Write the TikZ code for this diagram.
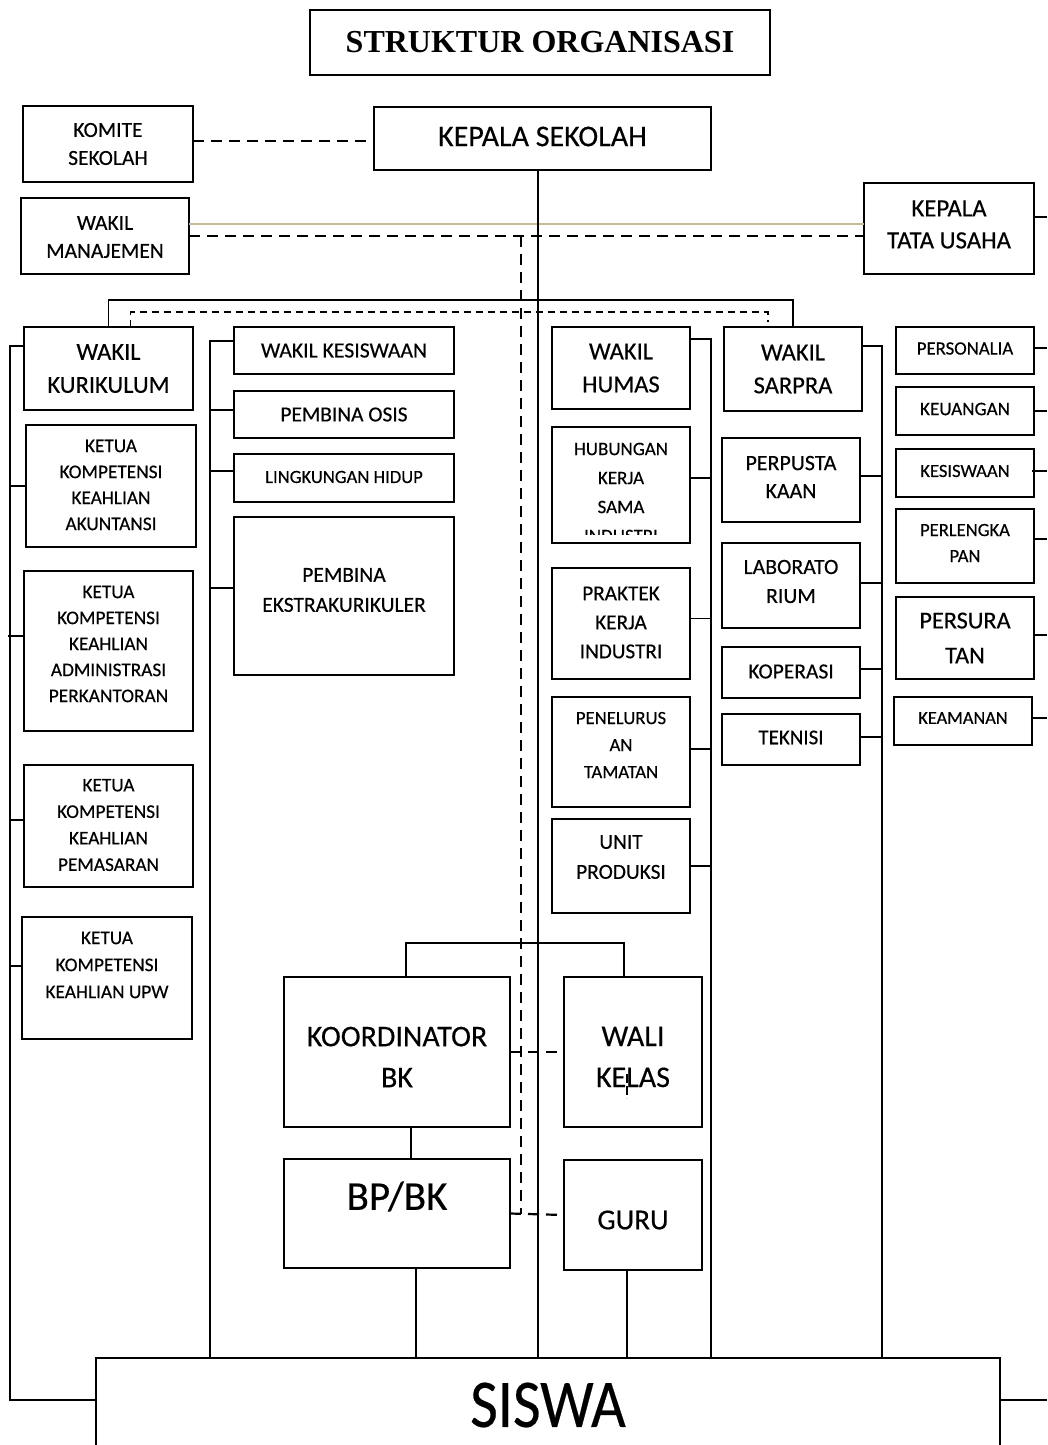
\documentclass[tikz,border=0pt]{standalone}
\usepackage{fontspec}
\setmainfont{Carlito}[FakeBold=0.35]
\newfontfamily\titlefont{Liberation Serif}
\definecolor{tanc}{RGB}{196,186,148}
\newcommand\fs[2]{\fontsize{#1}{#2}\selectfont}
\newcommand\bx[8]{%
  \node[bxs, anchor=north west, minimum width={#4-#2}, minimum height={#5-#3}] (#1) at (#2,#3) {};
  \node[txt, font=#6] (#1t) at ([yshift={-(#7)}]#1.center) {#8};
}
\begin{document}
\begin{tikzpicture}[x=1pt,y=-1pt,
  bxs/.style={draw, fill=white, line width=1.7pt, inner sep=0pt, outer sep=0pt, rectangle},
  txt/.style={align=center, inner sep=0pt},
  ln/.style={line width=1.5pt},
  thinln/.style={line width=1.2pt},
  dsh/.style={line width=2.2pt, dash pattern=on 11pt off 7pt},
  dsh2/.style={line width=1.4pt, dash pattern=on 7pt off 5pt},
  tanln/.style={line width=2pt, draw=tanc}]
\useasboundingbox (0,0) rectangle (1047,1445);
\fill[white] (0,0) rectangle (1047,1445);
\clip (0,0) rectangle (1047,1445);

% boxes
\bx{title}{310}{10}{770}{75}{\titlefont\bfseries\fs{32}{38}}{0}{STRUKTUR ORGANISASI}
\bx{ks}{374}{107}{711}{170}{\fs{30}{34}}{-2}{KEPALA SEKOLAH}
\bx{kom}{23}{106}{193}{182}{\fs{21.5}{28}}{0}{KOMITE\\SEKOLAH}
\bx{wm}{21}{198}{189}{274}{\fs{21.5}{28}}{1}{WAKIL\\MANAJEMEN}
\bx{kt}{864}{183}{1034}{274}{\fs{24.8}{32}}{-4}{KEPALA\\TATA USAHA}
\bx{wk}{24}{327}{193}{410}{\fs{24.5}{33}}{0}{WAKIL\\KURIKULUM}
\bx{ka}{26}{425}{196}{547}{\fs{19.3}{26}}{-1}{KETUA\\KOMPETENSI\\KEAHLIAN\\AKUNTANSI}
\bx{kap}{24}{571}{193}{731}{\fs{19.3}{26}}{-7}{KETUA\\KOMPETENSI\\KEAHLIAN\\ADMINISTRASI\\PERKANTORAN}
\bx{kp}{24}{765}{193}{887}{\fs{19.3}{26.5}}{-1}{KETUA\\KOMPETENSI\\KEAHLIAN\\PEMASARAN}
\bx{ku}{22}{917}{192}{1039}{\fs{19.3}{27}}{-13}{KETUA\\KOMPETENSI\\KEAHLIAN UPW}
\bx{wkes}{234}{327}{454}{374}{\fs{21.7}{24}}{0}{WAKIL KESISWAAN}
\bx{pos}{234}{391}{454}{438}{\fs{21.4}{24}}{0}{PEMBINA OSIS}
\bx{lh}{234}{454}{454}{502}{\fs{18.6}{22}}{-1}{LINGKUNGAN HIDUP}
\bx{pe}{234}{517}{454}{675}{\fs{21.5}{30}}{-6}{PEMBINA\\EKSTRAKURIKULER}
\bx{wh}{552}{327}{690}{409}{\fs{24.5}{33}}{0}{WAKIL\\HUMAS}
\node[bxs, anchor=north west, minimum width=138, minimum height=116] (hub) at (552,427) {};
\begin{scope}
  \clip (552,427) rectangle (690,534);
  \node[txt, font=\fs{19}{29}] (hubt) at ([yshift=-7.5pt]hub.center) {HUBUNGAN\\KERJA\\SAMA\\INDUSTRI};
\end{scope}
\bx{pki}{552}{568}{690}{679}{\fs{21.2}{29}}{-1}{PRAKTEK\\KERJA\\INDUSTRI}
\bx{pen}{552}{697}{690}{807}{\fs{18.7}{27}}{-7}{PENELURUS\\AN\\TAMATAN}
\bx{up}{552}{819}{690}{913}{\fs{21.4}{30}}{-9}{UNIT\\PRODUKSI}
\bx{ws}{724}{327}{862}{411}{\fs{24.5}{33}}{0}{WAKIL\\SARPRA}
\bx{perp}{722}{438}{860}{522}{\fs{21.9}{28}}{-3}{PERPUSTA\\KAAN}
\bx{lab}{722}{543}{860}{628}{\fs{21.7}{29}}{-4}{LABORATO\\RIUM}
\bx{kop}{722}{647}{860}{698}{\fs{21.5}{24}}{-1}{KOPERASI}
\bx{tek}{722}{714}{860}{765}{\fs{21}{24}}{-2}{TEKNISI}
\bx{pers}{896}{327}{1034}{374}{\fs{18.8}{20}}{-2}{PERSONALIA}
\bx{keu}{896}{387}{1034}{435}{\fs{19.1}{20}}{-2}{KEUANGAN}
\bx{kesw}{896}{449}{1034}{497}{\fs{18.6}{20}}{-2}{KESISWAAN}
\bx{perl}{896}{509}{1034}{583}{\fs{18.6}{26}}{-3}{PERLENGKA\\PAN}
\bx{psr}{896}{597}{1034}{679}{\fs{24.3}{35}}{0}{PERSURA\\TAN}
\bx{keam}{894}{697}{1032}{745}{\fs{18.3}{20}}{-3}{KEAMANAN}
\bx{koord}{284}{977}{510}{1127}{\fs{30}{41}}{5}{KOORDINATOR\\BK}
\bx{wali}{564}{977}{702}{1127}{\fs{30}{41}}{5}{WALI\\KELAS}
\bx{bp}{284}{1159}{510}{1268}{\fs{41}{46}}{-17}{BP/BK}
\bx{guru}{564}{1160}{702}{1270}{\fs{29}{34}}{5}{GURU}
\bx{siswa}{96}{1358}{1000}{1462}{\fs{62}{70}}{-5}{\scalebox{0.97}[1.1]{SISWA}}

% spine coordinates
\coordinate (sL) at (10,0);
\coordinate (sK) at (210,0);
\coordinate (sC) at (538,0);
\coordinate (sD) at (521,0);
\coordinate (sH) at (711,0);
\coordinate (sS) at (882,0);
\coordinate (sR) at (1047,0);
\coordinate (sisL) at ([yshift=-42pt]siswa.north west);
\coordinate (sisR) at ([yshift=-42pt]siswa.north east);

% top connectors
\coordinate (a1) at ([yshift=3pt]kom.east);
\draw[dsh] (a1) -- (a1 -| ks.west);
\coordinate (t1) at ([yshift=12pt]wm.east);
\draw[tanln] (t1) -- (t1 -| kt.west);
\draw[dsh] (wm.east) -- (wm.east -| kt.west);
\draw[dsh] (wm.east -| sD) -- (bp.east -| sD);
\draw[dsh] (koord.east) -- (wali.west);
\draw[dsh] (bp.east) -- (guru.west);
\draw[ln] (ks.south -| sC) -- (siswa.north -| sC);
\draw[ln] (wk.north) -- ++(0,-27) -| (ws.north);
\draw[dsh2] ([xshift=22pt]wk.north) -- ++(0,-15) -| ([xshift=-25pt,yshift=5pt]ws.north);

% left bus (kurikulum)
\draw[ln] ([yshift=-19pt]wk.north west) -| (sL |- sisL) -- (sisL);
\draw[ln] (ka.west) -- (ka.west -| sL);
\coordinate (k2) at ([yshift=15pt]kap.west);
\draw[ln] (k2) -- ([xshift=-2pt]k2 -| sL);
\coordinate (k3) at ([yshift=6pt]kp.west);
\draw[ln] (k3) -- (k3 -| sL);
\coordinate (k4) at ([yshift=12pt]ku.west);
\draw[ln] (k4) -- (k4 -| sL);

% kesiswaan bus
\draw[ln] ([yshift=-14pt]wkes.north west) -| (sK |- siswa.north);
\coordinate (p1) at ([yshift=4.5pt]pos.west);
\draw[ln] (p1) -- (p1 -| sK);
\coordinate (p2) at ([yshift=7pt]lh.west);
\draw[ln] (p2) -- (p2 -| sK);
\coordinate (p3) at ([yshift=8pt]pe.west);
\draw[ln] (p3) -- (p3 -| sK);

% humas bus
\draw[ln] ([yshift=-12pt]wh.north east) -| (sH |- siswa.north);
\coordinate (h1) at ([yshift=7pt]hub.east);
\draw[ln] (h1) -- (h1 -| sH);
\coordinate (h2) at ([yshift=5pt]pki.east);
\draw[ln] (h2) -- (h2 -| sH);
\coordinate (h3) at ([yshift=3pt]pen.east);
\draw[ln] (h3) -- (h3 -| sH);
\draw[ln] (up.east) -- (up.east -| sH);

% sarpra bus
\draw[ln] ([yshift=-19pt]ws.north east) -| (sS |- siswa.north);
\coordinate (r1) at ([yshift=4pt]perp.east);
\draw[ln] (r1) -- (r1 -| sS);
\coordinate (r2) at ([yshift=2.5pt]lab.east);
\draw[ln] (r2) -- (r2 -| sS);
\coordinate (r3) at ([yshift=3.5pt]kop.east);
\draw[ln] (r3) -- (r3 -| sS);
\coordinate (r4) at ([yshift=2.5pt]tek.east);
\draw[ln] (r4) -- (r4 -| sS);

% tata usaha side
\coordinate (u0) at ([yshift=11.5pt]kt.east);
\draw[ln] (u0) -- (u0 -| sR);
\coordinate (u1) at ([yshift=2.5pt]pers.east);
\draw[ln] (u1) -- (u1 -| sR);
\draw[ln] (keu.east) -- (keu.east -| sR);
\coordinate (u3) at ([yshift=2pt]kesw.east);
\draw[ln] ([xshift=-2pt]u3) -- (u3 -| sR);
\coordinate (u4) at ([yshift=7pt]perl.east);
\draw[ln] (u4) -- (u4 -| sR);
\coordinate (u5) at ([yshift=3pt]psr.east);
\draw[ln] (u5) -- (u5 -| sR);
\coordinate (u6) at ([yshift=3pt]keam.east);
\draw[ln] (u6) -- (u6 -| sR);
\draw[ln] (sisR) -- (sisR -| sR);

% BK / wali / guru
\draw[ln] ([xshift=9pt]koord.north) -- ++(0,-34) -| ([xshift=-9pt]wali.north);
\draw[ln] ([xshift=14pt]koord.south) -- ([xshift=14pt]bp.north);
\coordinate (b1) at ([xshift=19pt]bp.south);
\draw[thinln] (b1) -- (b1 |- siswa.north);
\coordinate (g1) at ([xshift=-6pt]guru.south);
\draw[thinln] (g1) -- (g1 |- siswa.north);
\draw[line width=1.8pt, dash pattern=on 9pt off 3pt] ([xshift=-6pt,yshift=-22pt]wali.center) -- ++(0,24);
\end{tikzpicture}
\end{document}
